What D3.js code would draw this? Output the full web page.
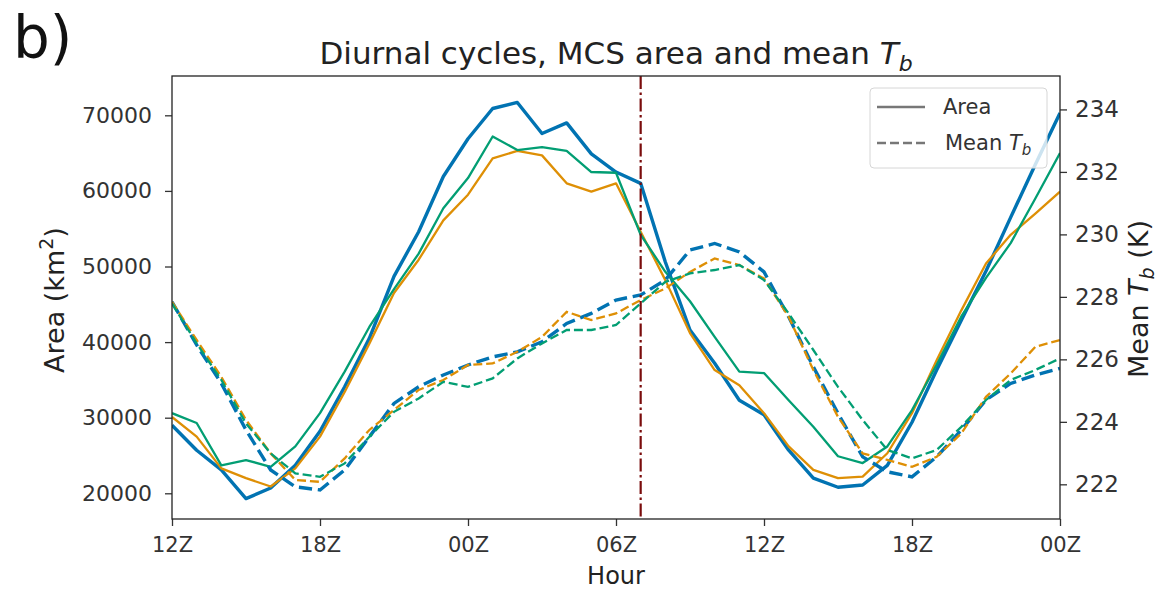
<!DOCTYPE html>
<html lang="en">
<head>
    <meta charset="UTF-8">
    <script src="https://d3js.org/d3.v7.min.js"></script>
    <title>Diurnal cycles, MCS area and mean Tb</title>
    <style>
        body { margin: 0; background: #fff; }
        text { font-family: "DejaVu Sans", sans-serif; }
    </style>
</head>
<body>
    <div id="chart"></div>

    <script>
        // hours since 12Z, 36 hour span
        let hours = d3.range(0, 37);
        let tickHours = [0, 6, 12, 18, 24, 30, 36];
        let tickLabels = ["12Z", "18Z", "00Z", "06Z", "12Z", "18Z", "00Z"];
        let markerHour = 19; // 07Z

        // MCS area (km2)
        let blueArea = [29000, 25700, 23100, 19300, 20700, 23700, 28200, 34100, 40500, 48700,
            54600, 61900, 66900, 70900, 71700, 67600, 69000, 64900, 62500, 61000,
            50600, 41600, 37200, 32300, 30400, 25700, 22000, 20800, 21100, 23700,
            29400, 36300, 42900, 49400, 56500, 63500, 70300];
        let orangeArea = [30100, 27500, 23300, 22000, 20900, 23300, 27500, 33400, 39800, 46500,
            50900, 56100, 59500, 64300, 65300, 64700, 61000, 59900, 61000, 54600,
            48200, 41200, 36300, 34300, 30600, 26200, 23100, 22000, 22200, 25300,
            30600, 37600, 44200, 50400, 54200, 57000, 59900];
        let greenArea = [30600, 29300, 23700, 24400, 23500, 26200, 30600, 36100, 42000, 47000,
            51700, 57700, 61700, 67200, 65400, 65800, 65300, 62500, 62400, 54200,
            49300, 45400, 40700, 36100, 35900, 32300, 28800, 24900, 24000, 26200,
            31000, 37000, 43400, 48500, 53100, 59000, 65000];

        // mean brightness temperature (K)
        let blueTb = [227.84, 226.46, 225.23, 223.74, 222.46, 221.92, 221.82, 222.46, 223.52, 224.59,
            225.12, 225.50, 225.82, 226.08, 226.24, 226.56, 227.15, 227.47, 227.90, 228.06,
            228.54, 229.50, 229.71, 229.44, 228.80, 227.36, 225.76, 224.27, 222.88, 222.40,
            222.24, 222.88, 223.74, 224.70, 225.23, 225.50, 225.71];
        let orangeTb = [227.84, 226.62, 225.44, 224.06, 222.99, 222.14, 222.08, 222.83, 223.74, 224.38,
            225.02, 225.34, 225.82, 225.87, 226.24, 226.72, 227.52, 227.26, 227.47, 227.90,
            228.27, 228.80, 229.23, 229.02, 228.59, 227.36, 225.66, 224.16, 222.99, 222.78,
            222.56, 222.88, 223.63, 224.80, 225.55, 226.40, 226.62];
        let greenTb = [227.79, 226.51, 225.34, 223.95, 222.99, 222.35, 222.24, 222.67, 223.52, 224.32,
            224.75, 225.28, 225.12, 225.39, 226.03, 226.51, 226.94, 226.94, 227.10, 227.79,
            228.48, 228.75, 228.86, 229.02, 228.54, 227.47, 226.30, 225.12, 224.06, 223.10,
            222.83, 223.10, 223.84, 224.70, 225.34, 225.66, 226.03];

        let areaTicks = [20000, 30000, 40000, 50000, 60000, 70000];
        let tbTicks = [222, 224, 226, 228, 230, 232, 234];

        let series = [
            {area: blueArea, tb: blueTb, color: "#0173b2", width: 3.4},
            {area: orangeArea, tb: orangeTb, color: "#de8f05", width: 2.3},
            {area: greenArea, tb: greenTb, color: "#029e73", width: 2.3}
        ];

        // dimensions
        let win_width = 1158, win_height = 590;
        let margin = {top: 76, right: 98, bottom: 71, left: 172};
        let graph_width = win_width - margin.left - margin.right;
        let graph_height = win_height - margin.top - margin.bottom;

        let svg = d3.select("#chart")
            .append("svg")
            .attr("width", win_width)
            .attr("height", win_height);

        svg.append("rect").attr("width", win_width).attr("height", win_height).attr("fill", "#fff");

        let g = svg.append("g")
            .attr("transform", "translate(" + margin.left + "," + margin.top + ")");

        let x = d3.scaleLinear().domain([0, 36]).range([0, graph_width]);
        let yArea = d3.scaleLinear().domain([16600, 75200]).range([graph_height, 0]);
        let yTb = d3.scaleLinear().domain([220.89, 235.07]).range([graph_height, 0]);

        // lines
        let areaLine = function(vals) {
            return d3.line().x(function(d, i) { return x(hours[i]); }).y(function(d) { return yArea(d); })(vals);
        };
        let tbLine = function(vals) {
            return d3.line().x(function(d, i) { return x(hours[i]); }).y(function(d) { return yTb(d); })(vals);
        };

        g.append("clipPath").attr("id", "clip")
            .append("rect").attr("width", graph_width).attr("height", graph_height);
        let plot = g.append("g").attr("clip-path", "url(#clip)");

        series.forEach(function(s) {
            plot.append("path")
                .attr("d", areaLine(s.area))
                .attr("fill", "none")
                .attr("stroke", s.color)
                .attr("stroke-width", s.width)
                .attr("stroke-linejoin", "round");
        });
        series.forEach(function(s) {
            plot.append("path")
                .attr("d", tbLine(s.tb))
                .attr("fill", "none")
                .attr("stroke", s.color)
                .attr("stroke-width", s.width)
                .attr("stroke-dasharray", (3.9 * s.width) + "," + (1.7 * s.width));
        });

        // 07Z marker
        plot.append("line")
            .attr("x1", x(markerHour)).attr("x2", x(markerHour))
            .attr("y1", 0).attr("y2", graph_height)
            .attr("stroke", "#7a0c0c")
            .attr("stroke-width", 2.2)
            .attr("stroke-dasharray", "13,3.5,2.5,3.5");

        // axes
        let xAxis = g.append("g")
            .attr("transform", "translate(0," + graph_height + ")")
            .call(d3.axisBottom(x).tickValues(tickHours)
                .tickFormat(function(d, i) { return tickLabels[i]; })
                .tickSize(7).tickPadding(11).tickSizeOuter(0));
        let leftAxis = g.append("g")
            .call(d3.axisLeft(yArea).tickValues(areaTicks).tickFormat(d3.format("d"))
                .tickSize(7).tickPadding(13).tickSizeOuter(0));
        let rightAxis = g.append("g")
            .attr("transform", "translate(" + graph_width + ",0)")
            .call(d3.axisRight(yTb).tickValues(tbTicks)
                .tickSize(7).tickPadding(8).tickSizeOuter(0));

        [xAxis, leftAxis, rightAxis].forEach(function(a) {
            a.selectAll("line").attr("stroke", "#333").attr("stroke-width", 1.3);
            a.select(".domain").remove();
        });
        xAxis.selectAll("text").style("font-size", "21px").attr("fill", "#333");
        leftAxis.selectAll("text").style("font-size", "22px").attr("fill", "#333");
        rightAxis.selectAll("text").style("font-size", "23px").attr("fill", "#333");

        // frame
        g.append("rect")
            .attr("width", graph_width).attr("height", graph_height)
            .attr("fill", "none").attr("stroke", "#222").attr("stroke-width", 1.3);

        // legend
        let legend = g.append("g").attr("transform", "translate(" + (graph_width - 190) + ",12)");
        legend.append("rect")
            .attr("width", 177).attr("height", 80).attr("rx", 4)
            .attr("fill", "#fff").attr("fill-opacity", 0.8)
            .attr("stroke", "#d6d6d6").attr("stroke-width", 1);
        legend.append("line").attr("x1", 7).attr("x2", 55).attr("y1", 19).attr("y2", 19)
            .attr("stroke", "#777").attr("stroke-width", 2.3);
        legend.append("line").attr("x1", 7).attr("x2", 55).attr("y1", 55).attr("y2", 55)
            .attr("stroke", "#777").attr("stroke-width", 2.3).attr("stroke-dasharray", "9,4");
        legend.append("text").attr("x", 73).attr("y", 26).style("font-size", "21px")
            .attr("fill", "#333").text("Area");
        let lt = legend.append("text").attr("x", 75).attr("y", 62).style("font-size", "21px").attr("fill", "#333");
        lt.append("tspan").text("Mean ");
        lt.append("tspan").style("font-style", "italic").text("T");
        lt.append("tspan").style("font-style", "italic").style("font-size", "15px").attr("dy", 5).text("b");

        // titles
        svg.append("text").attr("x", 13).attr("y", 58).style("font-size", "58px").attr("fill", "#111").text("b)");

        let title = svg.append("text")
            .attr("x", margin.left + graph_width / 2).attr("y", 64)
            .attr("text-anchor", "middle").style("font-size", "31px").attr("fill", "#222");
        title.append("tspan").text("Diurnal cycles, MCS area and mean ");
        title.append("tspan").style("font-style", "italic").text("T");
        title.append("tspan").style("font-style", "italic").style("font-size", "22px").attr("dy", 7).text("b");

        svg.append("text")
            .attr("x", margin.left + graph_width / 2).attr("y", 584)
            .attr("text-anchor", "middle").style("font-size", "24px").attr("fill", "#222")
            .text("Hour");

        let yl = svg.append("text")
            .attr("transform", "translate(64,300) rotate(-90)")
            .attr("text-anchor", "middle").style("font-size", "27px").attr("fill", "#222");
        yl.append("tspan").text("Area (km");
        yl.append("tspan").style("font-size", "19px").attr("dy", -11).text("2");
        yl.append("tspan").attr("dy", 11).text(")");

        let yr = svg.append("text")
            .attr("transform", "translate(1148,299) rotate(-90)")
            .attr("text-anchor", "middle").style("font-size", "27px").attr("fill", "#222");
        yr.append("tspan").text("Mean ");
        yr.append("tspan").style("font-style", "italic").text("T");
        yr.append("tspan").style("font-style", "italic").style("font-size", "19px").attr("dy", 6).text("b");
        yr.append("tspan").attr("dy", -6).text(" (K)");
    </script>
</body>
</html>
